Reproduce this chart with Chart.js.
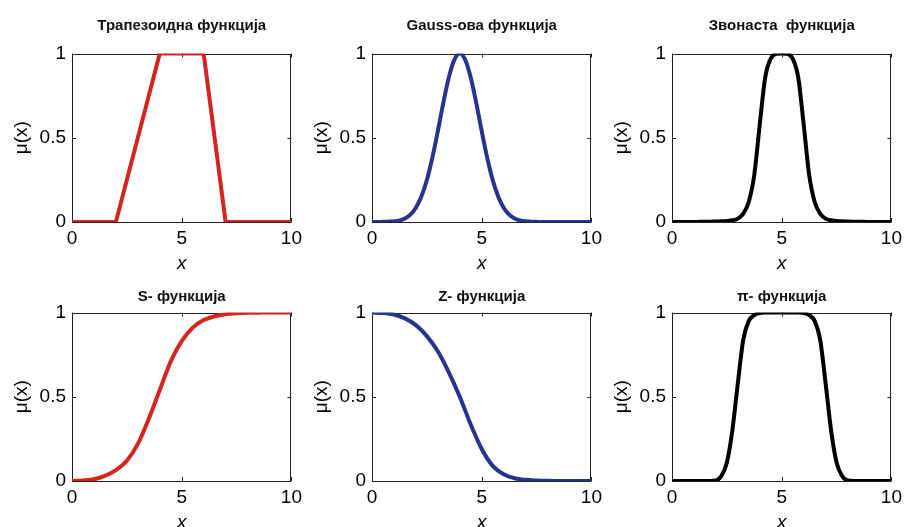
<!DOCTYPE html>
<html>
<head>
<meta charset="utf-8">
<script src="https://cdn.jsdelivr.net/npm/chart.js@4/dist/chart.umd.min.js"></script>
<style>
  html, body { margin: 0; padding: 0; background: #fff; overflow: hidden; }
  body { width: 905px; height: 527px; position: relative; }
  .panel { position: absolute; width: 307px; height: 275px; }
</style>
</head>
<body>
<div class="panel" style="left:0;top:0"><canvas id="c1" width="307" height="275"></canvas></div>
<div class="panel" style="left:300px;top:0"><canvas id="c2" width="307" height="275"></canvas></div>
<div class="panel" style="left:600px;top:0"><canvas id="c3" width="307" height="275"></canvas></div>
<div class="panel" style="left:0;top:259px"><canvas id="c4" width="307" height="275"></canvas></div>
<div class="panel" style="left:300px;top:259px"><canvas id="c5" width="307" height="275"></canvas></div>
<div class="panel" style="left:600px;top:259px"><canvas id="c6" width="307" height="275"></canvas></div>
<script>
'use strict';

// x positions
var trapX = [0, 2, 4, 6, 7, 10];
var quarterX = [0, 0.25, 0.5, 0.75, 1, 1.25, 1.5, 1.75, 2, 2.25, 2.5, 2.75, 3, 3.25, 3.5, 3.75,
    4, 4.25, 4.5, 4.75, 5, 5.25, 5.5, 5.75, 6, 6.25, 6.5, 6.75, 7, 7.25, 7.5, 7.75,
    8, 8.25, 8.5, 8.75, 9, 9.25, 9.5, 9.75, 10];
var halfX = [0, 0.5, 1, 1.5, 2, 2.5, 3, 3.5, 4, 4.5, 5, 5.5, 6, 6.5, 7, 7.5, 8, 8.5, 9, 9.5, 10];

// membership values
var trapY = [0, 0, 1, 1, 0, 0];
var gaussY = [0, 0, 0.001, 0.002, 0.004, 0.009, 0.021, 0.044, 0.085, 0.151, 0.249, 0.381,
    0.539, 0.707, 0.857, 0.962, 1, 0.962, 0.857, 0.707, 0.539, 0.381, 0.249, 0.151,
    0.085, 0.044, 0.021, 0.009, 0.004, 0.002, 0.001, 0, 0, 0, 0, 0, 0, 0, 0, 0, 0];
var bellY = [0, 0, 0, 0, 0, 0.001, 0.001, 0.002, 0.003, 0.004, 0.006, 0.01, 0.02, 0.05,
    0.12, 0.28, 0.58, 0.86, 0.97, 0.998, 1, 0.998, 0.97, 0.86, 0.58, 0.28, 0.12, 0.05,
    0.02, 0.01, 0.006, 0.004, 0.003, 0.002, 0.001, 0.001, 0, 0, 0, 0, 0];
var sY = [0, 0.003, 0.01, 0.03, 0.065, 0.12, 0.22, 0.37, 0.54, 0.71, 0.83, 0.91, 0.955,
    0.978, 0.99, 0.995, 0.998, 0.999, 1, 1, 1];
var zY = [1, 0.997, 0.988, 0.965, 0.925, 0.86, 0.77, 0.645, 0.5, 0.335, 0.19, 0.09, 0.04,
    0.016, 0.007, 0.003, 0.001, 0, 0, 0, 0];
var piY = [0, 0, 0, 0, 0, 0, 0, 0, 0.003, 0.03, 0.11, 0.3, 0.58, 0.84, 0.95, 0.985, 0.997,
    1, 1, 1, 1, 1, 1, 1, 0.997, 0.985, 0.95, 0.84, 0.58, 0.3, 0.11, 0.03, 0.003,
    0, 0, 0, 0, 0, 0, 0, 0];

var xTicks = [0, 5, 10];
var yTicks = [0, 0.5, 1];

var RED = '#d4261f';
var BLUE = '#26338f';
var BLACK = '#000000';

Chart.defaults.font.family = '"Liberation Sans", Arial, sans-serif';
Chart.defaults.color = '#000';

// MATLAB-like box with inner tick marks
var boxPlugin = {
    id: 'box',
    beforeDatasetsDraw: function (chart) {
        var a = chart.chartArea;
        var ctx = chart.ctx;
        var sx = chart.scales.x;
        var sy = chart.scales.y;
        ctx.save();
        ctx.strokeStyle = '#222';
        ctx.lineWidth = 1;
        ctx.strokeRect(Math.round(a.left) + 0.5, Math.round(a.top) + 0.5,
            Math.round(a.right - a.left) - 1, Math.round(a.bottom - a.top) - 1);
        ctx.beginPath();
        xTicks.forEach(function (v) {
            var px = Math.round(sx.getPixelForValue(v)) + 0.5;
            ctx.moveTo(px, a.bottom); ctx.lineTo(px, a.bottom - 4);
            ctx.moveTo(px, a.top); ctx.lineTo(px, a.top + 4);
        });
        yTicks.forEach(function (v) {
            var py = Math.round(sy.getPixelForValue(v)) + 0.5;
            ctx.moveTo(a.left, py); ctx.lineTo(a.left + 4, py);
            ctx.moveTo(a.right, py); ctx.lineTo(a.right - 4, py);
        });
        ctx.stroke();
        ctx.restore();
    }
};

function points(xs, ys) {
    return xs.map(function (x, i) { return { x: x, y: ys[i] }; });
}

function makeChart(id, title, xs, ys, color, smooth, row) {
    var titlePad = row === 1 ? { top: 16.5, bottom: 19 } : { top: 28.7, bottom: 6.8 };
    return new Chart(document.getElementById(id), {
        type: 'line',
        data: {
            datasets: [{
                data: points(xs, ys),
                borderColor: color,
                borderWidth: 4,
                pointRadius: 0,
                fill: false,
                tension: 0,
                cubicInterpolationMode: smooth ? 'monotone' : 'default'
            }]
        },
        options: {
            responsive: false,
            animation: false,
            layout: {
                padding: { left: 0, right: 14, top: 0, bottom: 0 }
            },
            plugins: {
                legend: { display: false },
                tooltip: { enabled: false },
                title: {
                    display: true,
                    text: title,
                    fullSize: false,
                    color: '#111',
                    font: { size: 15, weight: 'bold' },
                    padding: titlePad
                }
            },
            scales: {
                x: {
                    type: 'linear',
                    min: 0,
                    max: 10,
                    grid: { display: false, drawTicks: false },
                    border: { display: false },
                    afterBuildTicks: function (scale) {
                        scale.ticks = xTicks.map(function (v) { return { value: v }; });
                    },
                    ticks: {
                        font: { size: 19 },
                        padding: 5,
                        maxRotation: 0,
                        callback: function (v) { return String(v); }
                    },
                    title: {
                        display: true,
                        text: 'x',
                        font: { size: 19, style: 'italic' },
                        padding: { top: 0, bottom: 0 }
                    },
                    afterFit: function (scale) { scale.height = 53; }
                },
                y: {
                    min: 0,
                    max: 1,
                    grid: { display: false, drawTicks: false },
                    border: { display: false },
                    afterBuildTicks: function (scale) {
                        scale.ticks = yTicks.map(function (v) { return { value: v }; });
                    },
                    ticks: {
                        font: { size: 19 },
                        padding: 6,
                        callback: function (v) { return String(v); }
                    },
                    title: {
                        display: true,
                        text: 'μ(x)',
                        font: { size: 19 },
                        padding: { top: 10, bottom: 0 }
                    },
                    afterFit: function (scale) { scale.width = 72; }
                }
            }
        },
        plugins: [boxPlugin]
    });
}

makeChart('c1', 'Трапезоидна функција', trapX, trapY, RED, false, 1);
makeChart('c2', 'Gauss-ова функција', quarterX, gaussY, BLUE, true, 1);
makeChart('c3', 'Звонаста  функција', quarterX, bellY, BLACK, true, 1);
makeChart('c4', 'S- функција', halfX, sY, RED, true, 2);
makeChart('c5', 'Z- функција', halfX, zY, BLUE, true, 2);
makeChart('c6', 'π- функција', quarterX, piY, BLACK, true, 2);
</script>
</body>
</html>
